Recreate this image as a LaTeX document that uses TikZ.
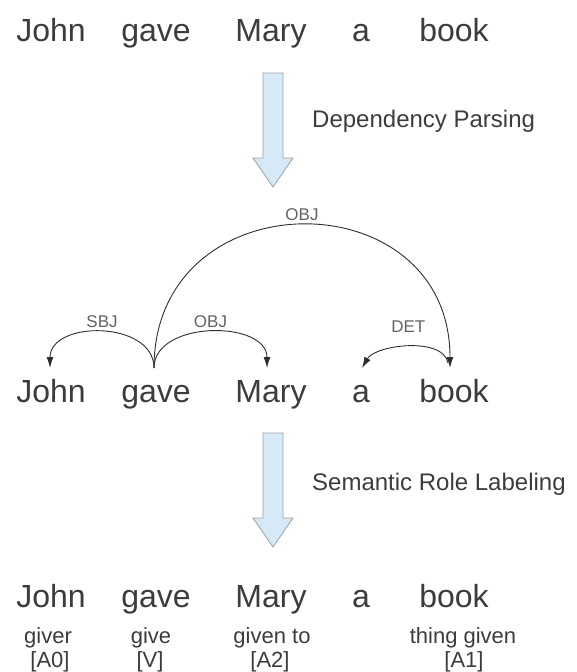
\documentclass[tikz,border=0pt]{standalone}
\usepackage{fontspec}
\setmainfont{Liberation Sans}
\usetikzlibrary{arrows.meta, positioning, calc}
\definecolor{srText}{HTML}{3C3C3C}
\definecolor{srArc}{HTML}{2E2E2E}
\definecolor{srFill}{HTML}{D6E9F6}
\definecolor{srEdge}{HTML}{A0A0A0}
\tikzset{
  word/.style={
    font=\fontsize{32}{36}\selectfont, text=srText, anchor=base,
    inner sep=0pt, outer ysep=10pt, text height=24pt, text depth=8pt
  },
  deplabel/.style={font=\fontsize{17}{19}\selectfont, text=srText!80, inner sep=1pt},
  steplabel/.style={font=\fontsize{24}{28}\selectfont, text=srText, anchor=base west, inner sep=0pt},
  rolelabel/.style={font=\fontsize{22}{24}\selectfont, text=srText, anchor=base, inner sep=0pt},
  deparc/.style={-{Latex[length=11pt, width=7pt]}, line width=0.9pt, srArc},
  stagearrow/.style={fill=srFill, draw=srEdge, line width=0.8pt, line join=miter}
}
\begin{document}
\begin{tikzpicture}[x=1pt, y=-1pt]
  \useasboundingbox (0,0) rectangle (577,672);

  % raw sentence
  \node[word] (r1john) at (51,41) {John};
  \node[word] (r1gave) at (156,41) {gave};
  \node[word] (r1mary) at (271,41) {Mary};
  \node[word] (r1a) at (361,41) {a};
  \node[word] (r1book) at (454,41) {book};

  % step 1
  \draw[stagearrow] (263,73) -- (283,73) -- (283,158) -- (293,158) -- (273,187)
    -- (253,158) -- (263,158) -- cycle;
  \node[steplabel] (dp) at (312,127) {Dependency Parsing};

  % parsed sentence
  \node[word] (r2john) at (51,402) {John};
  \node[word] (r2gave) at (156,402) {gave};
  \node[word] (r2mary) at (271,402) {Mary};
  \node[word] (r2a) at (361,402) {a};
  \node[word] (r2book) at (454,402) {book};

  \draw[deparc] ([xshift=-2pt]r2gave.north) to[out=90, in=90, looseness=1.18]
    node[midway, above=3pt, deplabel] {SBJ} ([xshift=-1pt]r2john.north);
  \draw[deparc] ([xshift=-2pt]r2gave.north) to[out=90, in=90, looseness=1.09]
    node[midway, above=3pt, deplabel] {OBJ} ([xshift=-4pt]r2mary.north);
  \draw[deparc] ([xshift=-2pt]r2gave.north) to[out=90, in=90, looseness=1.65]
    node[midway, above=3pt, deplabel] {OBJ} ([xshift=-4pt]r2book.north);
  \draw[deparc] ([xshift=-6pt, yshift=5pt]r2book.north) to[out=100, in=60, looseness=0.8]
    node[midway, above=13pt, deplabel] {DET} ([xshift=1pt]r2a.north);

  % step 2
  \draw[stagearrow] (263,433) -- (283,433) -- (283,518) -- (293,518) -- (273,547)
    -- (253,518) -- (263,518) -- cycle;
  \node[steplabel] (srl) at (312,490) {Semantic Role Labeling};

  % labelled sentence
  \node[word] (r3john) at (51,607) {John};
  \node[word] (r3gave) at (156,607) {gave};
  \node[word] (r3mary) at (271,607) {Mary};
  \node[word] (r3a) at (361,607) {a};
  \node[word] (r3book) at (454,607) {book};

  \node[rolelabel] (a0role) at (48,643) {giver};
  \node[rolelabel] (a0tag) at (50,667) {[A0]};
  \node[rolelabel] (vrole) at (151,643) {give};
  \node[rolelabel] (vtag) at (150,667) {[V]};
  \node[rolelabel] (a2role) at (272,643) {given to};
  \node[rolelabel] (a2tag) at (270,667) {[A2]};
  \node[rolelabel] (a1role) at (463,643) {thing given};
  \node[rolelabel] (a1tag) at (464,667) {[A1]};
\end{tikzpicture}
\end{document}
